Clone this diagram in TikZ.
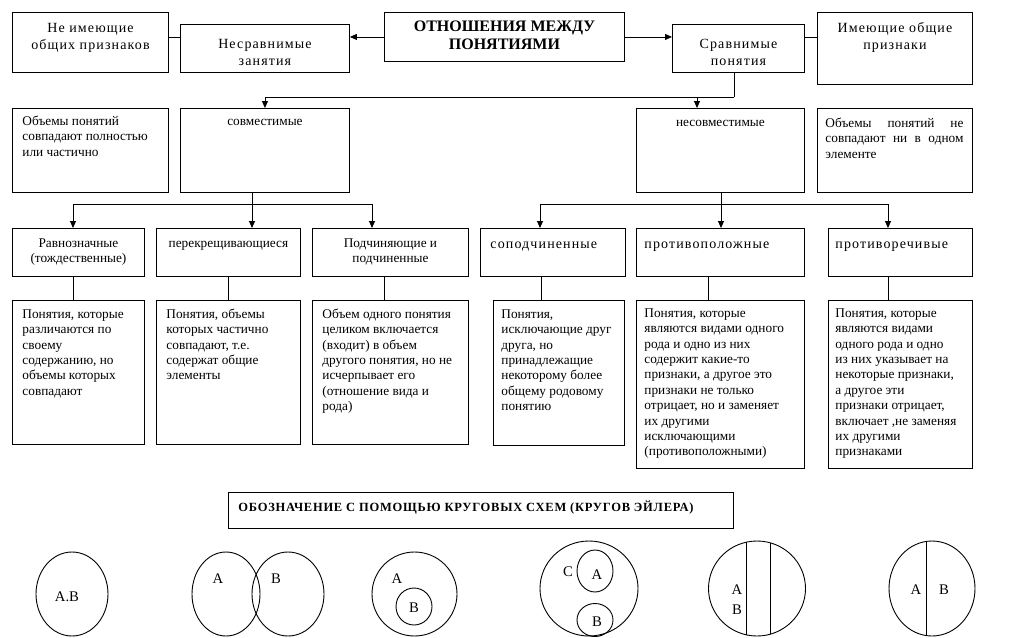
\documentclass[tikz,border=0pt]{standalone}
\usepackage{fontspec}
\setmainfont{Liberation Serif}
\newfontfamily\widefont[LetterSpace=8]{Liberation Serif}
\newfontfamily\capsfont[LetterSpace=6]{Liberation Serif}
\usetikzlibrary{positioning, arrows.meta}

\begin{document}
\begin{tikzpicture}
[
    x=1pt, y=-1pt, line width=0.9pt,
    % One unit is one pixel of the scan, y runs downwards.
    % Boxes are placed by their north west corner: box={width}{height}
    box/.style 2 args={draw, anchor=north west, inner sep=0pt,
        minimum width=#1, minimum height=#2},
    arr/.style={-{Triangle[length=7pt, width=6pt]}}
]

%=================================== Start ===================================
\tikzstyle{txt}    = [inner sep=0pt, align=center, font=\fontsize{13.3}{15.4}\selectfont]
\tikzstyle{wide}   = [inner sep=0pt, align=center, font=\widefont\fontsize{14}{17}\selectfont]
\tikzstyle{head}   = [inner sep=0pt, align=center, font=\bfseries\fontsize{16}{17.5}\selectfont]
\tikzstyle{caps}   = [inner sep=0pt, align=left, font=\capsfont\bfseries\fontsize{12.5}{15}\selectfont]
\tikzstyle{letter} = [inner sep=0pt, font=\fontsize{14.7}{17}\selectfont]

\path[use as bounding box, fill=white] (0,0) rectangle (1033,637);

% Row 1
\node[box={156pt}{60pt}] (nocommon) at (12,12)  {};
\node[box={169pt}{48pt}] (incomp)   at (180,24) {};
\node[box={240pt}{49pt}] (title)    at (384,12) {};
\node[box={132pt}{48pt}] (comp)     at (672,24) {};
\node[box={155pt}{72pt}] (common)   at (817,12) {};

\node[wide, below=8pt of nocommon.north]  (nocommon-t) {\strut Не имеющие\\общих признаков};
\node[wide, below=12pt of incomp.north]   (incomp-t)   {\strut Несравнимые\\занятия};
\node[head, below=7pt of title.north]     (title-t)    {\strut ОТНОШЕНИЯ МЕЖДУ\\ПОНЯТИЯМИ};
\node[wide, below=12pt of comp.north]     (comp-t)     {\strut Сравнимые\\понятия};
\node[wide, below=8pt of common.north]    (common-t)   {\strut Имеющие общие\\признаки};

% Row 2
\node[box={156pt}{84pt}] (overlap)  at (12,108)  {};
\node[box={169pt}{84pt}] (compat)   at (180,108) {};
\node[box={168pt}{84pt}] (incompat) at (636,108) {};
\node[box={155pt}{84pt}] (disjoint) at (817,108) {};

\node[txt, align=left, below right=6pt and 10pt of overlap.north west] (overlap-t)
    {\strut Объемы понятий\\совпадают полностью\\или частично};
\node[txt, below=6pt of compat.north]   (compat-t)   {\strut совместимые};
\node[txt, below=7pt of incompat.north] (incompat-t) {\strut несовместимые};
\node[txt, text width=138pt, align=justify, below right=8pt and 8pt of disjoint.north west] (disjoint-t)
    {\strut Объемы\hfill понятий\hfill не\\совпадают\hfill ни\hfill в\hfill одном\\элементе};

% Row 3
\node[box={132pt}{48pt}] (equal)  at (12,228)  {};
\node[box={144pt}{48pt}] (cross)  at (156,228) {};
\node[box={156pt}{48pt}] (sub)    at (312,228) {};
\node[box={145pt}{48pt}] (subord) at (480,228) {};
\node[box={168pt}{48pt}] (opp)    at (636,228) {};
\node[box={144pt}{48pt}] (contra) at (828,228) {};

\node[txt, below=8pt of equal.north] (equal-t) {\strut Равнозначные\\(тождественные)};
\node[txt, below=8pt of cross.north] (cross-t) {\strut перекрещивающиеся};
\node[txt, below=8pt of sub.north]   (sub-t)   {\strut Подчиняющие и\\подчиненные};
\node[wide, below right=8pt and 10pt of subord.north west] (subord-t) {\strut соподчиненные};
\node[wide, below right=8pt and 8pt of opp.north west]     (opp-t)    {\strut противоположные};
\node[wide, below right=8pt and 7pt of contra.north west]  (contra-t) {\strut противоречивые};

% Row 4
\node[box={132pt}{144pt}] (equal-d)  at (12,300)  {};
\node[box={144pt}{144pt}] (cross-d)  at (156,300) {};
\node[box={156pt}{144pt}] (sub-d)    at (312,300) {};
\node[box={131pt}{145pt}] (subord-d) at (493,300) {};
\node[box={168pt}{168pt}] (opp-d)    at (636,300) {};
\node[box={144pt}{168pt}] (contra-d) at (828,300) {};

\node[txt, align=left, below right=7pt and 10pt of equal-d.north west] (equal-dt)
    {\strut Понятия, которые\\различаются по\\своему\\содержанию, но\\объемы которых\\совпадают};
\node[txt, align=left, below right=7pt and 10pt of cross-d.north west] (cross-dt)
    {\strut Понятия, объемы\\которых частично\\совпадают, т.е.\\содержат общие\\элементы};
\node[txt, align=left, below right=7pt and 10pt of sub-d.north west] (sub-dt)
    {\strut Объем одного понятия\\целиком включается\\(входит) в объем\\другого понятия, но не\\исчерпывает его\\(отношение вида и\\рода)};
\node[txt, align=left, below right=7pt and 8pt of subord-d.north west] (subord-dt)
    {\strut Понятия,\\исключающие друг\\друга, но\\принадлежащие\\некоторому более\\общему родовому\\понятию};
\node[txt, align=left, below right=6pt and 8pt of opp-d.north west] (opp-dt)
    {\strut Понятия, которые\\являются видами одного\\рода и одно из них\\содержит какие-то\\признаки, а другое это\\признаки не только\\отрицает, но и заменяет\\их другими\\исключающими\\(противоположными)};
\node[txt, align=left, below right=6pt and 7pt of contra-d.north west] (contra-dt)
    {\strut Понятия, которые\\являются видами\\одного рода и одно\\из них указывает на\\некоторые признаки,\\а другое эти\\признаки отрицает,\\включает ,не заменяя\\их другими\\признаками};

% Connectors of row 1
\draw[arr] (title.west) -- (title.west -| incomp.east);
\draw[arr] (title.east) -- (title.east -| comp.west);
\draw (title.west -| nocommon.east) -- (title.west -| incomp.west);
\draw (title.east -| comp.east) -- (title.east -| common.west);

% Split of the compared notions
\coordinate (b0) at (734,97);
\coordinate (b1) at (697,97);
\draw (comp.south -| b0) -- (b0);
\draw[arr] (b0) -| (compat.north);
\draw[arr] (b1) -- (b1 |- incompat.north);

% Buses down to row 3
\coordinate (l0) at (252,204); \coordinate (l1) at (73,204);  \coordinate (l2) at (372,204);
\coordinate (r0) at (721,204); \coordinate (r1) at (540,204); \coordinate (r2) at (888,204);
\draw (compat.south -| l0) -- (l0);
\draw (incompat.south -| r0) -- (r0);
\draw (l1) -- (l2);
\draw (r1) -- (r2);
\foreach \c / \n in {l1/equal, l0/cross, l2/sub, r1/subord, r0/opp, r2/contra}
    \draw[arr] (\c) -- (\c |- \n.north);

% Row 3 to row 4
\foreach \a / \x in {equal/73, cross/228, sub/384, subord/541, opp/708, contra/888}
    \draw (\a.south -| \x,0) -- (\a-d.north -| \x,0);

% Euler circles
\node[box={505pt}{36pt}] (euler) at (228,492) {};
\node[caps, below right=8pt and 10pt of euler.north west] (euler-t)
    {\strut ОБОЗНАЧЕНИЕ С ПОМОЩЬЮ КРУГОВЫХ СХЕМ (КРУГОВ ЭЙЛЕРА)};

\draw (72,594) ellipse (36 and 42);
\node[letter] (c1-ab) at (67,597) {A.B};

\draw (226,594) ellipse (34 and 42);
\draw (288,594) ellipse (36 and 42);
\node[letter] (c2-a) at (218,579) {A};
\node[letter] (c2-b) at (276,579) {B};

\draw (414.5,594) ellipse (42.5 and 42);
\draw (414,606.5) ellipse (18 and 18.5);
\node[letter] (c3-a) at (397,579) {A};
\node[letter] (c3-b) at (414,608) {B};

\draw (589,588.5) ellipse (49 and 47.5);
\draw (595,571) ellipse (18 and 21);
\draw (595,620) ellipse (18 and 16.5);
\node[letter] (c4-c) at (568,572) {C};
\node[letter] (c4-a) at (597,575) {A};
\node[letter] (c4-b) at (597,622) {B};

\begin{scope}
    \clip (757,588.5) ellipse (48.5 and 47.5);
    \draw (746,530) -- (746,650) (770,530) -- (770,650);
\end{scope}
\draw (757,588.5) ellipse (48.5 and 47.5);
\node[letter] (c5-a) at (737,590) {A};
\node[letter] (c5-b) at (737,610) {B};

\begin{scope}
    \clip (932,588.5) ellipse (43 and 47.5);
    \draw (926,530) -- (926,650);
\end{scope}
\draw (932,588.5) ellipse (43 and 47.5);
\node[letter] (c6-a) at (916,590) {A};
\node[letter] (c6-b) at (944,590) {B};
%==================================== END ====================================

\end{tikzpicture}
\end{document}
